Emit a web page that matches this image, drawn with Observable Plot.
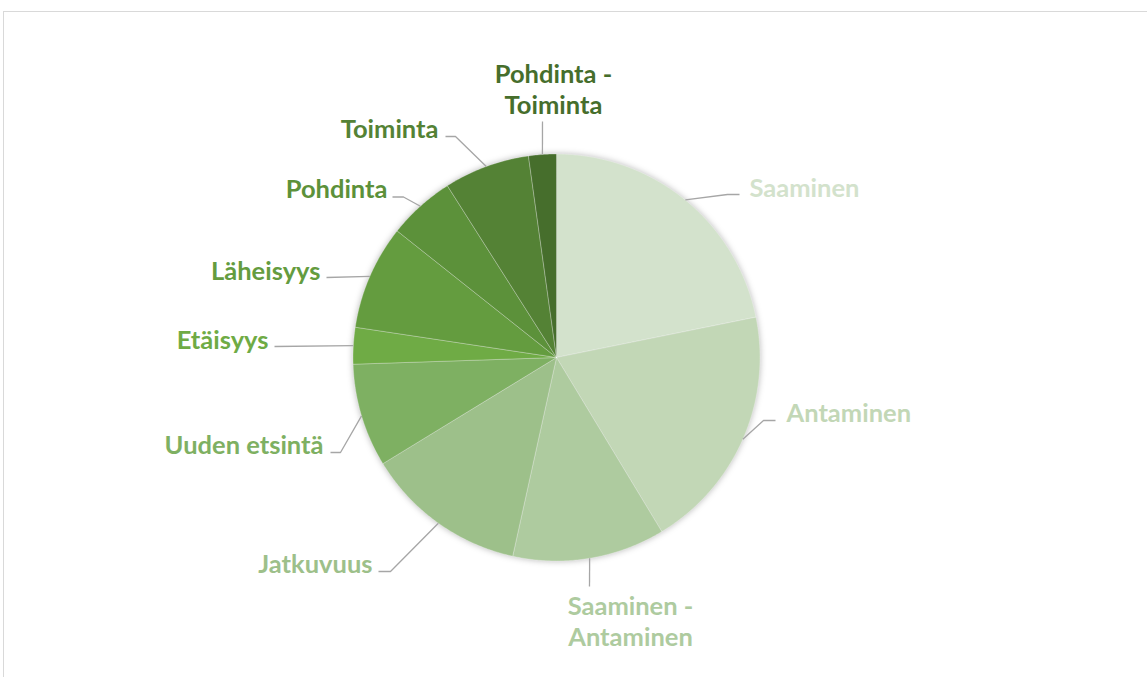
<!DOCTYPE html>
<html><head><meta charset="utf-8">
<script src="https://cdn.jsdelivr.net/npm/d3@7"></script>
<script src="https://cdn.jsdelivr.net/npm/@observablehq/plot@0.6"></script>
<style>
body{margin:0;background:#fff;overflow:hidden}
#wrap{position:relative;width:1147px;height:677px}
#frame{position:absolute;left:3px;top:11px;width:1200px;height:720px;border:1px solid #d9d9d9;box-sizing:border-box}
#chart{position:absolute;left:0;top:0}
</style></head><body>
<div id="wrap"><div id="frame"></div><div id="chart"></div></div>
<script>
// ---- data ----
const categories = ["Saaminen","Antaminen","Saaminen - Antaminen","Jatkuvuus","Uuden etsintä","Etäisyys","Läheisyys","Pohdinta","Toiminta","Pohdinta - Toiminta"];
const shares = [21.8, 19.5, 12.1, 12.8, 8.2, 2.9, 8.3, 5.3, 6.8, 2.2];
const labelTexts = ["Saaminen","Antaminen","Saaminen -\nAntaminen","Jatkuvuus","Uuden etsintä","Etäisyys","Läheisyys","Pohdinta","Toiminta","Pohdinta -\nToiminta"];
const sliceColors = ["#d3e2cc","#c2d7b6","#aecb9f","#9dc08a","#7eb062","#6fab45","#649c3f","#5c913a","#548235","#466e2c"];

// ---- layout (pixels) ----
const W = 1147, H = 677, CX = 556, CY = 357, R = 203.5;
const labelLayout = [
  {anchor:"start",  text:[749,187], path:[[727,194],[739,194]]},
  {anchor:"start",  text:[786,412], path:[[763,420],[775,420]]},
  {anchor:"middle", text:[630,620], path:[[589,586]]},
  {anchor:"end",    text:[372,563], path:[[390,571],[378,571]]},
  {anchor:"end",    text:[323,444], path:[[340,452],[330,452]]},
  {anchor:"end",    text:[268,339], path:[[274,346]]},
  {anchor:"end",    text:[320,270], path:[[326,277]]},
  {anchor:"end",    text:[387,188], path:[[403,196.5],[392,196.5]]},
  {anchor:"end",    text:[438,128], path:[[455,136],[445,136]]},
  {anchor:"middle", text:[553,88],  path:[[542,121]]}
];
const ux = px => (px - CX) / R, uy = py => (py - CY) / R;

const arcs = d3.pie().sort(null).value(d => d)(shares);

const slicePts = [];
arcs.forEach((a, i) => {
  const c = categories[i];
  const n = Math.max(2, Math.ceil((a.endAngle - a.startAngle) / (Math.PI / 360)));
  slicePts.push({c, x: 0, y: 0});
  for (let k = 0; k <= n; k++) {
    const t = a.startAngle + (a.endAngle - a.startAngle) * k / n;
    slicePts.push({c, x: Math.sin(t), y: -Math.cos(t)});
  }
  slicePts.push({c, x: 0, y: 0});
});

const leaderPts = [];
const labels = [];
arcs.forEach((a, i) => {
  const c = categories[i], L = labelLayout[i];
  const m = (a.startAngle + a.endAngle) / 2;
  leaderPts.push({c, x: Math.sin(m), y: -Math.cos(m)});
  L.path.forEach(([px, py]) => leaderPts.push({c, x: ux(px), y: uy(py)}));
  labels.push({c, text: labelTexts[i], anchor: L.anchor, x: ux(L.text[0]), y: uy(L.text[1])});
});

const textOpts = anchor => ({
  filter: d => d.anchor === anchor, x: "x", y: "y", text: "text", fill: "c",
  textAnchor: anchor, lineAnchor: "middle", fontFamily: "Lato", fontWeight: "bold",
  fontSize: 25.5, lineHeight: 1.22
});

const chart = Plot.plot({
  width: W, height: H,
  marginTop: 0, marginRight: 0, marginBottom: 0, marginLeft: 0,
  x: {domain: [ux(0), ux(W)], range: [0, W], axis: null},
  y: {domain: [uy(0), uy(H)], range: [0, H], axis: null},
  color: {domain: categories, range: sliceColors},
  style: {background: "transparent", overflow: "visible"},
  marks: [
    Plot.line(slicePts, {x: "x", y: "y", z: "c", fill: "c", stroke: "#ffffff", strokeWidth: 0.6, strokeOpacity: 0.45, curve: "linear"}),
    Plot.line(leaderPts, {x: "x", y: "y", z: "c", stroke: "#a6a6a6", strokeWidth: 1.3, curve: "linear", strokeLinecap: "butt", strokeLinejoin: "miter"}),
    Plot.text(labels, textOpts("start")),
    Plot.text(labels, textOpts("end")),
    Plot.text(labels, textOpts("middle"))
  ]
});
document.getElementById("chart").appendChild(chart);
const g = chart.querySelector('g[aria-label="line"]');
if (g) g.style.filter = "drop-shadow(0px 0px 3px rgba(0,0,0,0.28))";
</script>
</body></html>
